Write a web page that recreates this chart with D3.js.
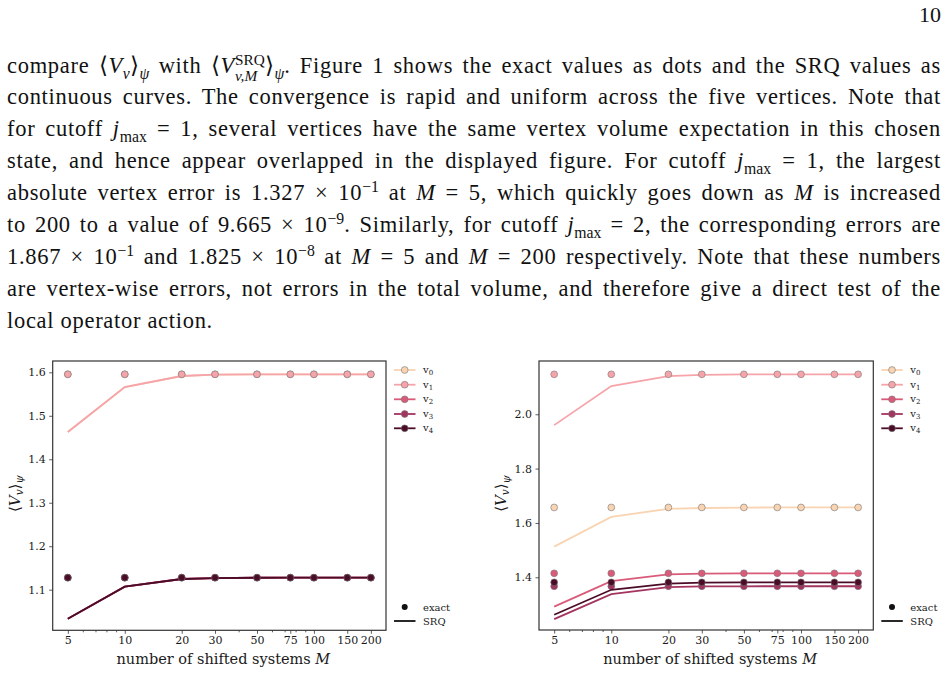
<!DOCTYPE html>
<html>
<head>
<meta charset="utf-8">
<script src="https://cdn.jsdelivr.net/npm/d3@7"></script>
<style>
  body { margin: 0; background: #fff; width: 948px; height: 674px; overflow: hidden; position: relative; }
  .pg { position: absolute; right: 7px; top: 2px; font: 22px "Liberation Serif", serif; color: #111; }
  .ln { position: absolute; left: 7px; width: 934px; height: 32px; line-height: 32px;
        font: 22.5px "Liberation Serif", serif; letter-spacing: 0.7px; color: #111; white-space: nowrap;
        text-align: justify; text-align-last: justify; }
  .ln.last { text-align-last: left; }
  .ln sub, .ln sup { font-size: 0.7em; line-height: 0; letter-spacing: 0; }
  .ss { display: inline-block; vertical-align: -0.5em; line-height: 1; font-size: 0.68em; text-align: left; letter-spacing: 0; }
  .ss span { display: block; }
  #chart { position: absolute; left: 0; top: 0; }
</style>
</head>
<body>
<div class="pg">10</div>
<div class="ln" style="top:52px">compare ⟨<i>V</i><sub><i>v</i></sub>⟩<sub><i>ψ</i></sub> with ⟨<i>V</i><span class="ss"><span>SRQ</span><span><i>v,M</i></span></span>⟩<sub><i>ψ</i></sub>. Figure 1 shows the exact values as dots and the SRQ values as</div>
<div class="ln" style="top:84px">continuous curves. The convergence is rapid and uniform across the five vertices. Note that</div>
<div class="ln" style="top:116px">for cutoff <i>j</i><sub>max</sub> = 1, several vertices have the same vertex volume expectation in this chosen</div>
<div class="ln" style="top:148px">state, and hence appear overlapped in the displayed figure. For cutoff <i>j</i><sub>max</sub> = 1, the largest</div>
<div class="ln" style="top:180px">absolute vertex error is 1.327 × 10<sup>−1</sup> at <i>M</i> = 5, which quickly goes down as <i>M</i> is increased</div>
<div class="ln" style="top:212px">to 200 to a value of 9.665 × 10<sup>−9</sup>. Similarly, for cutoff <i>j</i><sub>max</sub> = 2, the corresponding errors are</div>
<div class="ln" style="top:244px">1.867 × 10<sup>−1</sup> and 1.825 × 10<sup>−8</sup> at <i>M</i> = 5 and <i>M</i> = 200 respectively. Note that these numbers</div>
<div class="ln" style="top:276px">are vertex-wise errors, not errors in the total volume, and therefore give a direct test of the</div>
<div class="ln last" style="top:308px">local operator action.</div>
<svg id="chart" width="948" height="674"></svg>
<script>
// number of shifted systems
const M = [5, 10, 20, 30, 50, 75, 100, 150, 200];
const vertexNames = ["0", "1", "2", "3", "4"];

// j_max = 1 panel
const exactJ1 = [1.5954, 1.5954, 1.1276, 1.1276, 1.1276];
const srqJ1 = [
  [1.4627, 1.5660, 1.5915, 1.5945, 1.5953, 1.5954, 1.5954, 1.5954, 1.5954],
  [1.4627, 1.5660, 1.5915, 1.5945, 1.5953, 1.5954, 1.5954, 1.5954, 1.5954],
  [1.0333, 1.1070, 1.1246, 1.1268, 1.1275, 1.1276, 1.1276, 1.1276, 1.1276],
  [1.0333, 1.1070, 1.1246, 1.1268, 1.1275, 1.1276, 1.1276, 1.1276, 1.1276],
  [1.0333, 1.1070, 1.1246, 1.1268, 1.1275, 1.1276, 1.1276, 1.1276, 1.1276]
];
const yTicksJ1 = [1.1, 1.2, 1.3, 1.4, 1.5, 1.6];

// j_max = 2 panel
const exactJ2 = [1.657, 2.147, 1.4147, 1.367, 1.3816];
const srqJ2 = [
  [1.513, 1.622, 1.652, 1.655, 1.6565, 1.657, 1.657, 1.657, 1.657],
  [1.960, 2.104, 2.140, 2.145, 2.1467, 2.147, 2.147, 2.147, 2.147],
  [1.292, 1.386, 1.411, 1.4135, 1.4144, 1.4147, 1.4147, 1.4147, 1.4147],
  [1.246, 1.338, 1.364, 1.3663, 1.3669, 1.367, 1.367, 1.367, 1.367],
  [1.262, 1.354, 1.377, 1.380, 1.3813, 1.3816, 1.3816, 1.3816, 1.3816]
];
const yTicksJ2 = [1.4, 1.6, 1.8, 2.0];

const xTicks = [5, 10, 20, 30, 50, 75, 100, 150, 200];
const xMinor = [6, 7, 8, 9, 40, 60, 70, 80, 90];

const colors = ["#f9d4b2", "#f6a3a9", "#d95b79", "#a3345f", "#4b0c28"];
const ink = "#333";
const tickFont = "'DejaVu Serif', serif";

const svg = d3.select("#chart");

function panel(x0, x1, y0, y1, yDomain, yTicks, exact, srq) {
  const g = svg.append("g");
  const x = d3.scaleLog().domain([5 / Math.pow(10, 0.08), 200 * Math.pow(10, 0.08)]).range([x0, x1]);
  const y = d3.scaleLinear().domain(yDomain).range([y1, y0]);

  // axes
  g.append("g").attr("transform", `translate(0,${y1})`)
    .call(d3.axisBottom(x).tickValues(xTicks).tickFormat(d3.format("d")).tickSize(3.5).tickPadding(2.5));
  g.append("g").attr("transform", `translate(0,${y1})`)
    .call(d3.axisBottom(x).tickValues(xMinor).tickFormat("").tickSize(2));
  g.append("g").attr("transform", `translate(${x0},0)`)
    .call(d3.axisLeft(y).tickValues(yTicks).tickFormat(d3.format(".1f")).tickSize(3.5).tickPadding(3.5));
  g.selectAll(".tick line").attr("stroke", ink).attr("stroke-width", 0.8);
  g.selectAll(".tick text").attr("fill", "#1a1a1a").style("font-family", tickFont).style("font-size", "11px");
  g.selectAll(".domain").remove();
  g.append("rect").attr("x", x0).attr("y", y0).attr("width", x1 - x0).attr("height", y1 - y0)
    .attr("fill", "none").attr("stroke", ink).attr("stroke-width", 1.2);

  // series: SRQ curve, then exact dots
  const line = d3.line().x((d, i) => x(M[i])).y(d => y(d));
  srq.forEach((vals, k) => {
    g.append("path").datum(vals).attr("d", line)
      .attr("fill", "none").attr("stroke", colors[k]).attr("stroke-width", 1.8);
    g.selectAll(null).data(M).enter().append("circle")
      .attr("cx", d => x(d)).attr("cy", y(exact[k])).attr("r", 3.4)
      .attr("fill", colors[k]).attr("stroke", "#777").attr("stroke-width", 0.6);
  });

  // axis labels
  g.append("text").attr("x", (x0 + x1) / 2 + 4).attr("y", y1 + 34).attr("text-anchor", "middle")
    .style("font-family", tickFont).style("font-size", "14.5px").attr("fill", "#1a1a1a")
    .html('number of shifted systems <tspan font-style="italic">M</tspan>');
  const yl = g.append("text").attr("transform", `translate(${x0 - 33},${(y0 + y1) / 2 - 2}) rotate(-90)`)
    .attr("text-anchor", "middle").style("font-family", tickFont).style("font-size", "15px").attr("fill", "#1a1a1a");
  yl.append("tspan").text("⟨");
  yl.append("tspan").attr("font-style", "italic").text("V");
  yl.append("tspan").attr("font-style", "italic").attr("font-size", "10.5px").attr("dy", 3).text("v");
  yl.append("tspan").attr("dy", -3).text("⟩");
  yl.append("tspan").attr("font-style", "italic").attr("font-size", "10.5px").attr("dy", 3.5).text("ψ");

  // legends
  const lx = x1 + 8;
  const rows = [370, 384.7, 399.3, 414, 428.3];
  vertexNames.forEach((n, k) => {
    g.append("line").attr("x1", lx).attr("x2", lx + 21.5).attr("y1", rows[k]).attr("y2", rows[k])
      .attr("stroke", colors[k]).attr("stroke-width", 1.8);
    g.append("circle").attr("cx", lx + 10.7).attr("cy", rows[k]).attr("r", 3.4)
      .attr("fill", colors[k]).attr("stroke", "#777").attr("stroke-width", 0.6);
    const t = g.append("text").attr("x", lx + 29).attr("y", rows[k] + 3)
      .style("font-family", tickFont).style("font-size", "10px").attr("fill", "#1a1a1a");
    t.append("tspan").text("v");
    t.append("tspan").attr("font-size", "7px").attr("dy", 2).text(n);
  });
  g.append("circle").attr("cx", lx + 10.7).attr("cy", 607).attr("r", 3).attr("fill", "#111");
  g.append("line").attr("x1", lx).attr("x2", lx + 21.5).attr("y1", 621).attr("y2", 621)
    .attr("stroke", "#111").attr("stroke-width", 1.8);
  g.append("text").attr("x", lx + 29).attr("y", 610.5).style("font-family", tickFont)
    .style("font-size", "10px").attr("fill", "#1a1a1a").text("exact");
  g.append("text").attr("x", lx + 29).attr("y", 625).style("font-family", tickFont)
    .style("font-size", "10px").attr("fill", "#1a1a1a").text("SRQ");
}

panel(52.7, 386, 361, 630.3, [1.0066, 1.626], yTicksJ1, exactJ1, srqJ1);
panel(539, 873.3, 361, 630, [1.206, 2.196], yTicksJ2, exactJ2, srqJ2);
</script>
</body>
</html>
